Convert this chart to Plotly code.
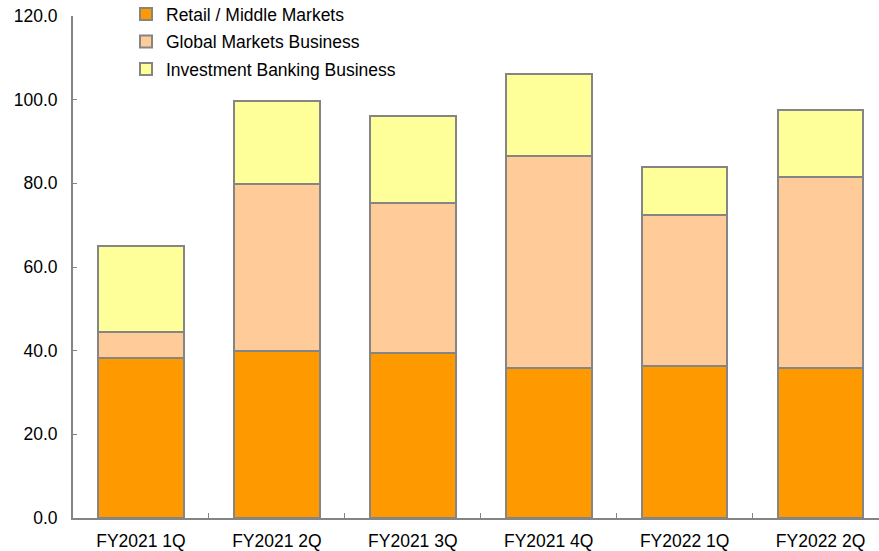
import plotly.graph_objects as go

quarters = ["FY2021 1Q", "FY2021 2Q", "FY2021 3Q", "FY2021 4Q", "FY2022 1Q", "FY2022 2Q"]
retail_middle = [38.2, 39.9, 39.4, 35.8, 36.3, 35.8]
global_markets = [6.2, 39.9, 35.9, 50.7, 36.1, 45.7]
investment_banking = [20.6, 19.8, 20.8, 19.6, 11.5, 16.0]

series = [
    ("Retail / Middle Markets", retail_middle, "#FF9900", "legend", 14),
    ("Global Markets Business", global_markets, "#FFCC99", "legend2", 41.5),
    ("Investment Banking Business", investment_banking, "#FFFF99", "legend3", 69),
]

FONT = "Liberation Sans, Arial, sans-serif"
FS = 17.5
EDGE = "#858585"
W, H = 879, 551
ML, MR, MT, MB = 73, 0, 16, 33
PW, PH = W - ML - MR, H - MT - MB

fig = go.Figure()
legends = {}
for name, vals, color, lg, ypx in series:
    fig.add_trace(go.Bar(
        x=quarters, y=vals, name=name, legend=lg,
        marker=dict(color=color, line=dict(color=EDGE, width=2)),
        width=0.63,
    ))
    legends[lg] = dict(
        bgcolor="rgba(0,0,0,0)", borderwidth=0,
        font=dict(family=FONT, size=FS, color="#000"),
        xanchor="left", yanchor="middle",
        x=(126 - ML) / PW, y=(H - MB - ypx) / PH, itemwidth=30,
    )

fig.update_layout(
    width=W, height=H,
    margin=dict(l=ML, r=MR, t=MT, b=MB, autoexpand=False),
    paper_bgcolor="white", plot_bgcolor="white",
    barmode="stack", showlegend=True,
    font=dict(family=FONT, size=FS, color="#000"),
    **legends,
    xaxis=dict(
        range=[-0.5, 5.43], tickson="boundaries",
        ticks="inside", ticklen=5, tickcolor=EDGE, tickwidth=1,
        showline=True, linecolor=EDGE, linewidth=2,
        showgrid=False, zeroline=False, ticklabelstandoff=6,
        tickangle=0,
        tickfont=dict(family=FONT, size=FS, color="#000"),
    ),
    yaxis=dict(
        range=[0, 120], dtick=20, tickformat=".1f",
        ticks="inside", ticklen=4, tickcolor=EDGE, tickwidth=1,
        showline=True, linecolor=EDGE, linewidth=2,
        showgrid=False, zeroline=False, ticklabelstandoff=10,
        tickfont=dict(family=FONT, size=FS, color="#000"),
    ),
)

fig.write_html("out.html")
